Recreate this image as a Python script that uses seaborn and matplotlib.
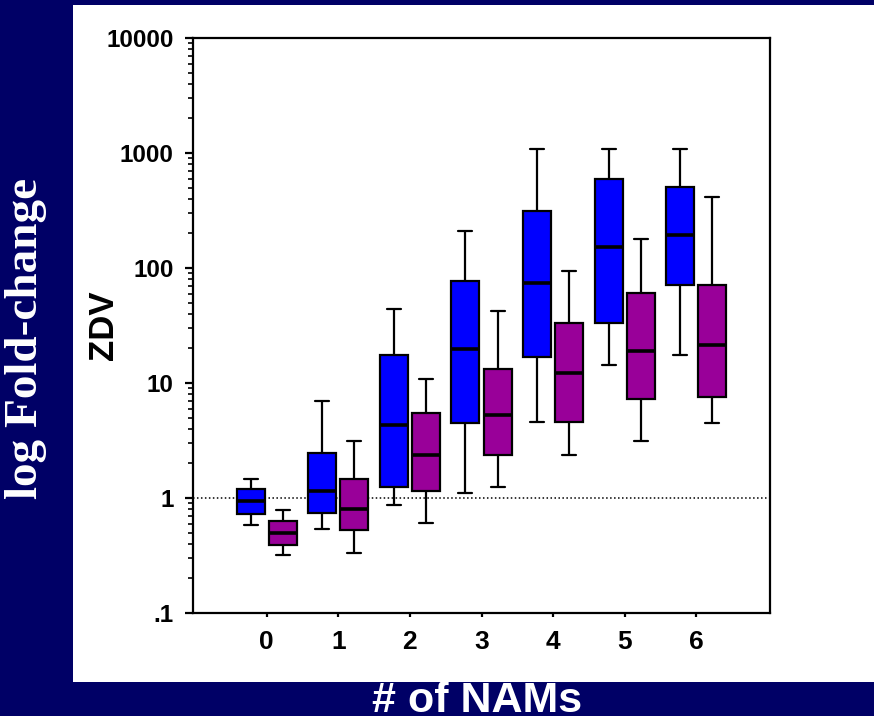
import numpy as np
import pandas as pd
import matplotlib
matplotlib.use("Agg")
import matplotlib.pyplot as plt
from matplotlib.patches import Rectangle
from matplotlib.ticker import FixedLocator, FixedFormatter, LogLocator, NullFormatter
import seaborn as sns

# Number of NAMs on the x axis
nams = [0, 1, 2, 3, 4, 5, 6]
groups = ["A", "B"]

# Group A (blue): whisker low, Q1, median, Q3, whisker high
a_low = [0.58, 0.54, 0.87, 1.1, 4.6, 14.3, 17.4]
a_q1 = [0.73, 0.74, 1.24, 4.5, 16.8, 33, 71]
a_med = [0.94, 1.16, 4.3, 19.6, 74, 151, 192]
a_q3 = [1.20, 2.45, 17.4, 77, 315, 594, 506]
a_high = [1.46, 7.0, 44, 210, 1080, 1080, 1080]

# Group B (purple)
b_low = [0.32, 0.33, 0.61, 1.24, 2.35, 3.1, 4.5]
b_q1 = [0.39, 0.53, 1.14, 2.35, 4.6, 7.2, 7.6]
b_med = [0.50, 0.80, 2.37, 5.24, 12.1, 19, 21.3]
b_q3 = [0.63, 1.46, 5.45, 13.2, 33, 60.6, 71]
b_high = [0.78, 3.13, 10.8, 42, 94, 179, 414]

ytick_vals = [0.1, 1, 10, 100, 1000, 10000]
ytick_labels = [".1", "1", "10", "100", "1000", "10000"]

summaries = {
    "A": (a_low, a_q1, a_med, a_q3, a_high),
    "B": (b_low, b_q1, b_med, b_q3, b_high),
}
rows = []
for g in groups:
    cols = summaries[g]
    for i, n in enumerate(nams):
        for c in cols:
            rows.append({"nams": n, "group": g, "fold": c[i]})
df = pd.DataFrame(rows)

sns.set_style("ticks")
plt.rcParams["font.family"] = ["Liberation Sans", "DejaVu Sans"]
plt.rcParams["font.weight"] = "bold"

navy = "#000066"
fig = plt.figure(figsize=(8.74, 7.16), dpi=100, facecolor=navy)
fig.patches.append(Rectangle((73 / 874, 34 / 716), 1 - 73 / 874, 677 / 716,
                             transform=fig.transFigure, facecolor="white",
                             edgecolor="none", zorder=-1))

W, H = 874, 716
ax = fig.add_axes([193 / W, (H - 613) / H, (770 - 193) / W, (613 - 38) / H])
ax.set_facecolor("white")

sns.boxplot(data=df, x="nams", y="fold", hue="group", order=nams,
            hue_order=groups, palette={"A": "#0000ff", "B": "#990099"},
            saturation=1, width=0.9, gap=0.13, whis=(0, 100),
            log_scale=(False, True), linecolor="black", linewidth=1.6,
            medianprops=dict(linewidth=2.6), fliersize=0, legend=False,
            orient="x", ax=ax)

ax.axhline(1, color="black", lw=1.1, ls=(0, (1, 1.6)), zorder=0.5)

ax.set_xlim(-1.03, 7.03)
ax.set_ylim(0.1, 10000)
ax.yaxis.set_major_locator(FixedLocator(ytick_vals))
ax.yaxis.set_major_formatter(FixedFormatter(ytick_labels))
ax.yaxis.set_minor_locator(LogLocator(base=10, subs=np.arange(2, 10)))
ax.yaxis.set_minor_formatter(NullFormatter())

for s in ax.spines.values():
    s.set_visible(True)
    s.set_linewidth(1.6)
    s.set_color("black")

ax.tick_params(axis="y", which="major", direction="out", length=6, width=1.6,
               pad=8, labelsize=17.5, colors="black")
ax.tick_params(axis="y", which="minor", direction="out", length=3.5, width=1.4)
ax.tick_params(axis="x", which="major", direction="out", length=3, width=1.6,
               pad=9, labelsize=19, colors="black")
for lab in ax.get_xticklabels() + ax.get_yticklabels():
    lab.set_fontweight("bold")

ax.set_xlabel("")
ax.set_ylabel("ZDV", fontsize=25, fontweight="bold", color="black", va="center")
ax.yaxis.set_label_coords((103 - 193) / (770 - 193), 0.5)

fig.text(37 / W, 1 - 338 / H, "log Fold-change", rotation=90,
         rotation_mode="anchor", ha="center", va="baseline", color="white",
         fontsize=34, fontweight="bold", family=["Liberation Serif", "DejaVu Serif"])
fig.text(477 / W, 4 / H, "# of NAMs", ha="center", va="baseline",
         color="white", fontsize=31, fontweight="bold")

fig.savefig("out.png", dpi=100, facecolor=navy)
